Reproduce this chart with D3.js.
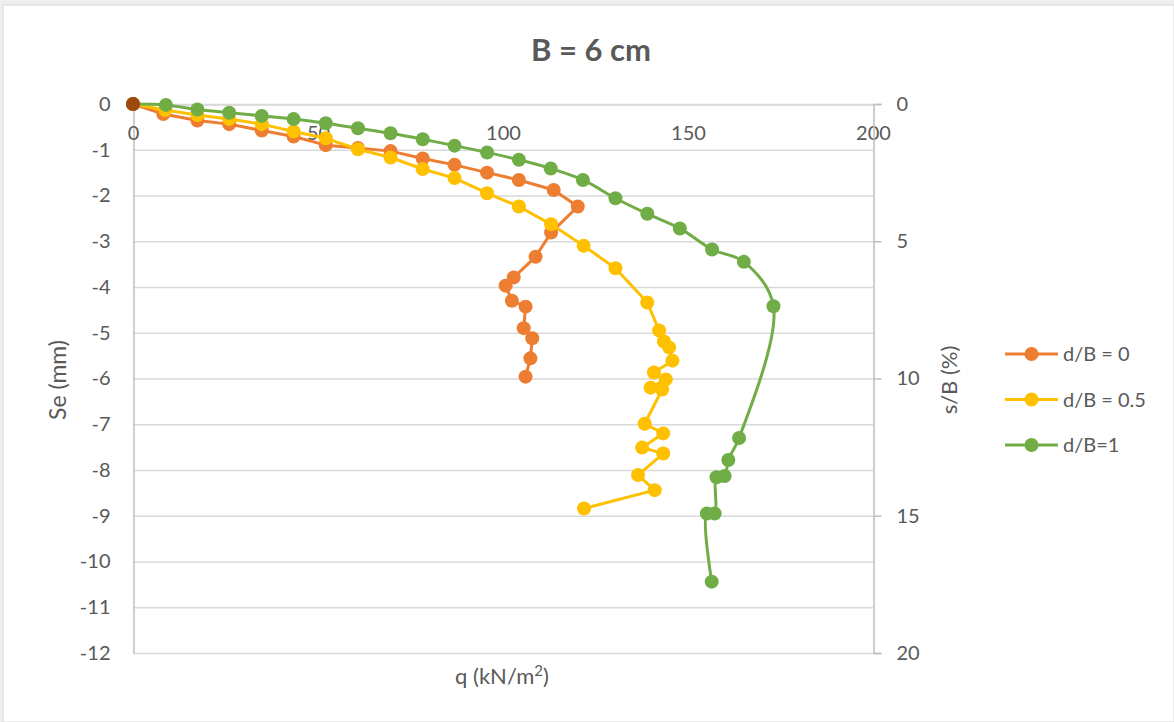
<!DOCTYPE html>
<html>
<head>
  <meta charset="utf-8">
  <title>B = 6 cm</title>
  <script src="https://d3js.org/d3.v7.min.js"></script>
  <style>
    body { margin: 0; background: #efefef; }
    text { font-family: Lato, "Open Sans", sans-serif; fill: #595959; }
  </style>
</head>
<body>
  <script>
    // Series: q (kN/m2) and Se (mm)
    const q0 = [0, 8.2, 17.4, 26, 34.8, 43.4, 52.1, 60.8, 69.6, 78.3, 86.9, 95.7, 104.3, 113.7, 120.2, 113, 108.8, 102.9, 100.7, 102.4, 106.1, 105.6, 107.9, 107.4, 106.1];
    const se0 = [0, -0.22, -0.36, -0.44, -0.58, -0.71, -0.9, -0.96, -1.03, -1.19, -1.33, -1.5, -1.66, -1.88, -2.24, -2.81, -3.34, -3.79, -3.97, -4.3, -4.43, -4.9, -5.12, -5.56, -5.96];

    const q05 = [0, 8.7, 17.4, 26, 34.8, 43.4, 52.1, 60.8, 69.6, 78.3, 86.9, 95.7, 104.3, 113, 121.8, 130.4, 139, 142.2, 143.5, 144.9, 145.8, 140.8, 144, 139.9, 143, 138.3, 143.3, 137.6, 143.3, 136.5, 141, 121.9];
    const se05 = [0, -0.13, -0.24, -0.33, -0.44, -0.6, -0.75, -0.99, -1.17, -1.42, -1.62, -1.95, -2.24, -2.63, -3.1, -3.59, -4.34, -4.95, -5.19, -5.32, -5.61, -5.87, -6.02, -6.2, -6.24, -6.99, -7.2, -7.51, -7.64, -8.11, -8.44, -8.84];

    const q1 = [0, 8.9, 17.4, 26, 34.8, 43.4, 52.1, 60.8, 69.6, 78.3, 86.9, 95.7, 104.3, 112.9, 121.6, 130.4, 139, 147.8, 156.5, 165.1, 173.1, 163.8, 160.9, 159.9, 157.7, 157.2, 155.1, 156.4];
    const se1 = [0, -0.02, -0.12, -0.19, -0.26, -0.33, -0.42, -0.53, -0.64, -0.77, -0.91, -1.06, -1.22, -1.41, -1.66, -2.06, -2.4, -2.72, -3.18, -3.45, -4.42, -7.3, -7.78, -8.13, -8.16, -8.95, -8.95, -10.44];

    const names = ['d/B = 0', 'd/B = 0.5', 'd/B=1'];
    const colors = ['#ED7D31', '#FFC000', '#70AD47'];
    const xTicks = [0, 50, 100, 150, 200];
    const yTicks = [0, -1, -2, -3, -4, -5, -6, -7, -8, -9, -10, -11, -12];
    const y2Ticks = [0, 5, 10, 15, 20];

    const W = 1174, H = 722;
    const svg = d3.select('body').append('svg').attr('width', W).attr('height', H);

    // chart area
    svg.append('rect').attr('x', 3).attr('y', 5).attr('width', W - 3).attr('height', H - 5)
      .attr('fill', '#fff').attr('stroke', '#d9d9d9');

    const pLeft = 133, pRight = 873, pTop = 104, pBottom = 653;
    const x = d3.scaleLinear().domain([0, 200]).range([pLeft, pRight]);
    const y = d3.scaleLinear().domain([-12, 0]).range([pBottom, pTop]);
    const y2 = d3.scaleLinear().domain([20, 0]).range([pBottom, pTop]);

    // gridlines
    svg.append('g').selectAll('line').data(yTicks).join('line')
      .attr('x1', pLeft).attr('x2', pRight)
      .attr('y1', d => y(d) + 0.5).attr('y2', d => y(d) + 0.5)
      .attr('stroke', '#d9d9d9').attr('stroke-width', 1.3);

    // left axis (plain hyphen minus, like the original)
    const yAxis = svg.append('g').attr('transform', `translate(${pLeft + 0.5},0)`)
      .call(d3.axisLeft(y).tickValues(yTicks).tickSize(0).tickPadding(23).tickFormat(d => String(d)));
    yAxis.select('.domain').attr('stroke', '#bfbfbf').attr('stroke-width', 1.5);
    yAxis.selectAll('text').style('font-size', '20px').attr('fill', '#595959');

    // x axis sits at Se = 0
    const xAxis = svg.append('g').attr('transform', `translate(0,${y(0) + 0.5})`)
      .call(d3.axisBottom(x).tickValues(xTicks).tickSize(0).tickPadding(21));
    xAxis.select('.domain').attr('stroke', '#d9d9d9').attr('stroke-width', 1.3);
    xAxis.selectAll('text').style('font-size', '20px').attr('fill', '#595959');

    // right axis s/B (%)
    const y2Axis = svg.append('g').attr('transform', `translate(${pRight + 0.5},0)`)
      .call(d3.axisRight(y2).tickValues(y2Ticks).tickSize(8).tickPadding(15));
    y2Axis.select('.domain').attr('stroke', '#bfbfbf').attr('stroke-width', 1.5);
    y2Axis.selectAll('line').attr('stroke', '#bfbfbf').attr('stroke-width', 1.5);
    y2Axis.selectAll('text').style('font-size', '20px').attr('fill', '#595959');

    // series
    const series = [
      { q: q0, se: se0, curve: d3.curveLinear },
      { q: q05, se: se05, curve: d3.curveLinear },
      { q: q1, se: se1, curve: d3.curveCatmullRom.alpha(0.5) }
    ];
    series.forEach((s, i) => {
      const pts = s.q.map((v, k) => [v, s.se[k]]);
      const line = d3.line().x(d => x(d[0])).y(d => y(d[1])).curve(s.curve);
      svg.append('path').datum(pts).attr('d', line)
        .attr('fill', 'none').attr('stroke', colors[i]).attr('stroke-width', 3)
        .attr('stroke-linejoin', 'round');
      svg.append('g').selectAll('circle').data(pts).join('circle')
        .attr('cx', d => x(d[0])).attr('cy', d => y(d[1])).attr('r', 7)
        .attr('fill', colors[i]);
    });
    // darker marker at the common origin
    svg.append('circle').attr('cx', x(0)).attr('cy', y(0)).attr('r', 7).attr('fill', '#9E480E');

    // title
    svg.append('text').attr('x', 591).attr('y', 61).attr('text-anchor', 'middle')
      .style('font-size', '31px').style('font-weight', 'bold').text('B = 6 cm');

    // axis titles
    svg.append('text').attr('transform', `translate(66,380) rotate(-90)`)
      .attr('text-anchor', 'middle').style('font-size', '23px').text('Se (mm)');
    svg.append('text').attr('transform', `translate(957,380) rotate(-90)`)
      .attr('text-anchor', 'middle').style('font-size', '22px').text('s/B (%)');
    const qt = svg.append('text').attr('x', 502).attr('y', 684)
      .attr('text-anchor', 'middle').style('font-size', '22px');
    qt.append('tspan').text('q (kN/m');
    qt.append('tspan').attr('dy', -8).style('font-size', '15px').text('2');
    qt.append('tspan').attr('dy', 8).text(')');

    // legend
    const lg = svg.append('g').selectAll('g').data(names).join('g')
      .attr('transform', (d, i) => `translate(1005,${354 + i * 45.5})`);
    lg.append('line').attr('x1', 0).attr('x2', 53).attr('stroke', (d, i) => colors[i]).attr('stroke-width', 3);
    lg.append('circle').attr('cx', 26.5).attr('r', 7).attr('fill', (d, i) => colors[i]);
    lg.append('text').attr('x', 58).attr('dy', '0.35em').style('font-size', '20px').text(d => d);
  </script>
</body>
</html>
